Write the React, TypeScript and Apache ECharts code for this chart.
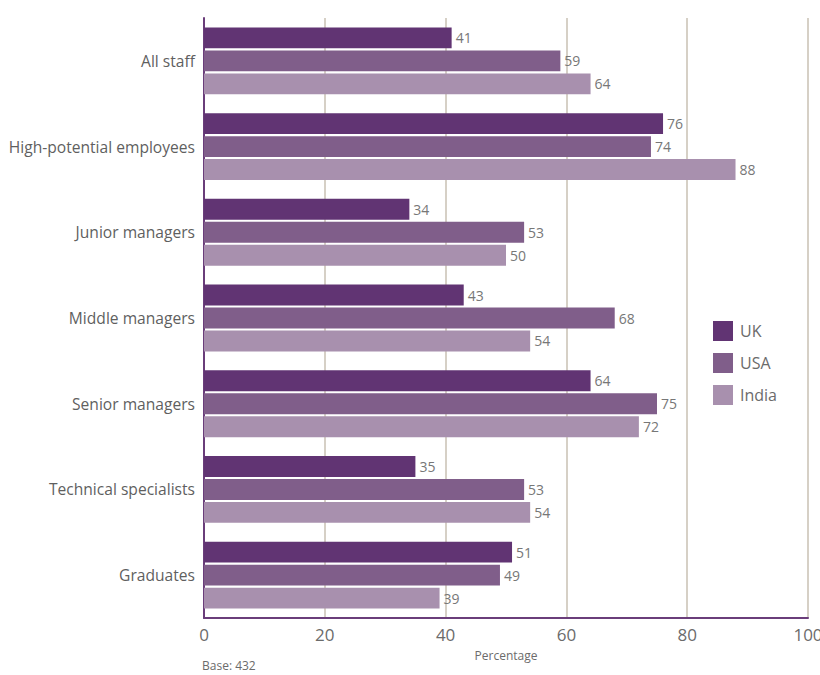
import React, { useEffect, useRef } from "react";
import * as echarts from "echarts";

const categories = [
  "All staff",
  "High-potential employees",
  "Junior managers",
  "Middle managers",
  "Senior managers",
  "Technical specialists",
  "Graduates",
];
const ukValues = [41, 76, 34, 43, 64, 35, 51];
const usaValues = [59, 74, 53, 68, 75, 53, 49];
const indiaValues = [64, 88, 50, 54, 72, 54, 39];
const seriesNames = ["UK", "USA", "India"];
const colors = ["#613473", "#805e8a", "#a890ae"];
const xTicks = [0, 20, 40, 60, 80, 100];

const FONT = "'Open Sans', 'Noto Sans', sans-serif";

export default function App() {
  const ref = useRef<HTMLDivElement>(null);
  useEffect(() => {
    document.body.style.margin = "0";
    const chart = echarts.init(ref.current!, undefined, { renderer: "svg" });
    const data = [ukValues, usaValues, indiaValues];
    chart.setOption({
      animation: false,
      textStyle: { fontFamily: FONT },
      grid: {
        left: 204,
        right: 12,
        top: 18,
        bottom: 57,
        containLabel: false,
        outerBoundsMode: "none",
      },
      legend: {
        orient: "vertical",
        left: 708,
        top: 316,
        icon: "rect",
        itemWidth: 20,
        itemHeight: 20,
        itemGap: 12,
        textStyle: { fontSize: 16, color: "#6b6b6b", fontFamily: FONT, padding: [0, 0, 0, 2] },
        data: seriesNames,
      },
      xAxis: {
        type: "value",
        min: xTicks[0],
        max: xTicks[xTicks.length - 1],
        interval: 20,
        name: "Percentage",
        nameLocation: "middle",
        nameGap: 31,
        nameTextStyle: { fontSize: 12, color: "#6b6b6b", fontFamily: FONT },
        axisLine: { show: true, lineStyle: { color: "#6a3d7a", width: 2 } },
        axisTick: { show: false },
        axisLabel: { fontSize: 17, color: "#6b6b6b", margin: 8, fontFamily: FONT },
        splitLine: { show: true, lineStyle: { color: "#c9c1b3", width: 1.5 } },
      },
      yAxis: {
        type: "category",
        data: categories,
        inverse: true,
        axisLine: { show: true, lineStyle: { color: "#6a3d7a", width: 2 } },
        axisTick: { show: false },
        axisLabel: { fontSize: 15.6, color: "#5f5f5f", margin: 9, fontFamily: FONT },
        splitLine: { show: false },
      },
      series: seriesNames.map((name, i) => ({
        name,
        type: "bar",
        data: data[i],
        itemStyle: { color: colors[i] },
        barCategoryGap: "22%",
        barGap: "10%",
        label: {
          show: true,
          position: "right",
          distance: 4,
          fontSize: 14,
          color: "#777777",
          fontFamily: FONT,
        },
      })),
      graphic: [
        {
          type: "text",
          left: 202,
          top: 659,
          style: { text: "Base: 432", fontSize: 12, fill: "#6b6b6b", fontFamily: FONT },
        },
      ],
    });
    return () => chart.dispose();
  }, []);
  return (
    <div
      ref={ref}
      style={{ width: 820, height: 675, position: "absolute", left: 0, top: 0 }}
    />
  );
}
